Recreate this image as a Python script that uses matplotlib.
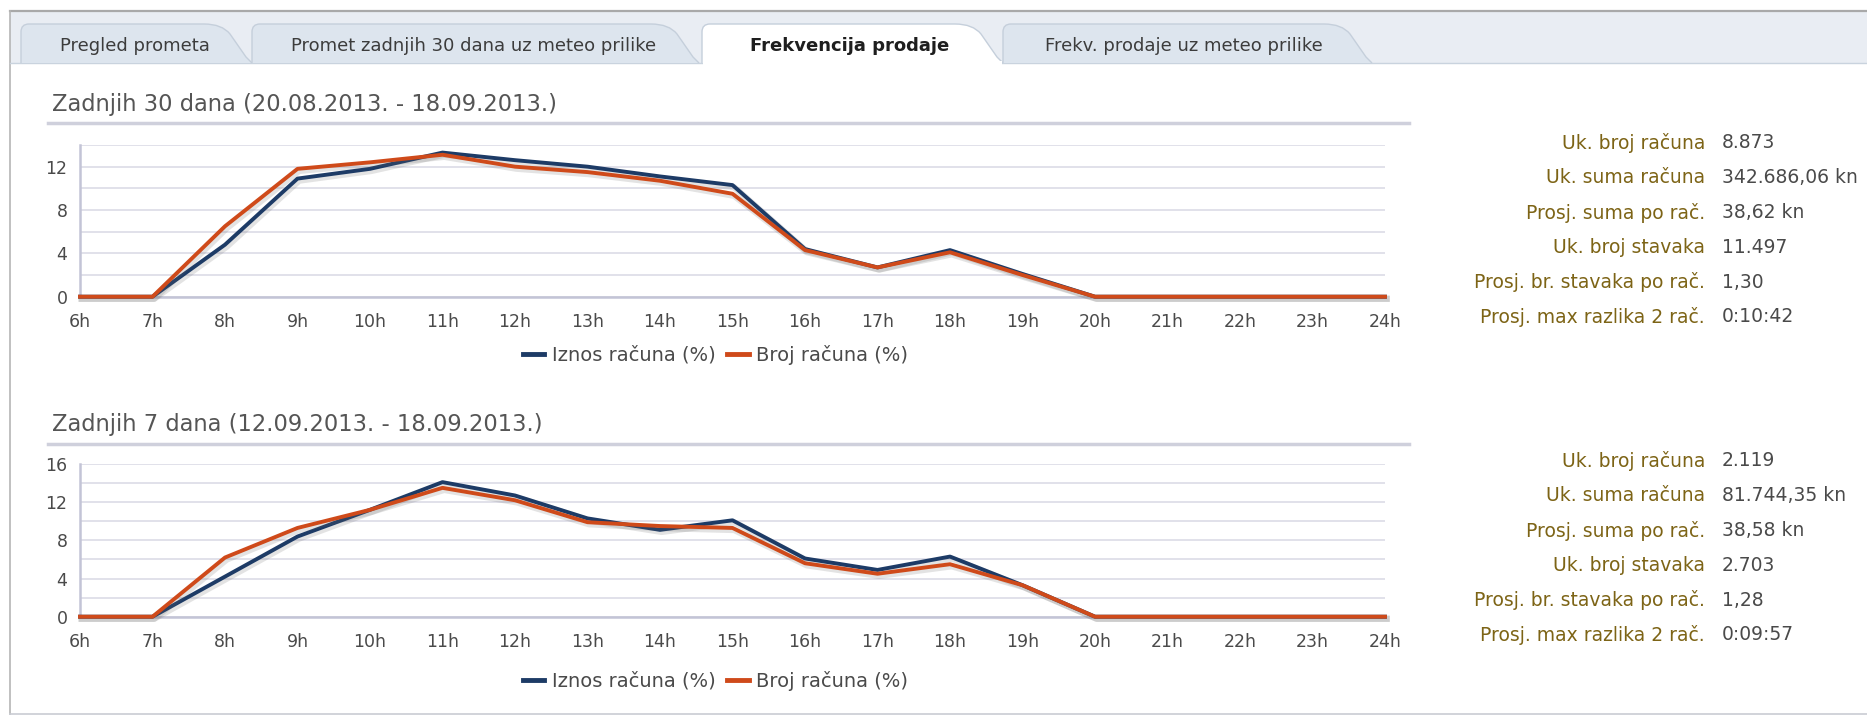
import matplotlib
matplotlib.use("Agg")
import matplotlib.pyplot as plt
from matplotlib.patches import Rectangle, PathPatch
from matplotlib.path import Path
import matplotlib.patheffects as pe

# ---------------- data ----------------
hours = ['6h', '7h', '8h', '9h', '10h', '11h', '12h', '13h', '14h', '15h',
         '16h', '17h', '18h', '19h', '20h', '21h', '22h', '23h', '24h']

iznos_30 = [0, 0, 4.8, 10.9, 11.8, 13.3, 12.6, 12.0, 11.1, 10.3,
            4.4, 2.7, 4.3, 2.1, 0, 0, 0, 0, 0]
broj_30 = [0, 0, 6.5, 11.8, 12.4, 13.1, 12.0, 11.5, 10.7, 9.5,
           4.3, 2.7, 4.1, 2.0, 0, 0, 0, 0, 0]

iznos_7 = [0, 0, 4.2, 8.4, 11.2, 14.1, 12.7, 10.3, 9.1, 10.1,
           6.1, 4.9, 6.3, 3.3, 0, 0, 0, 0, 0]
broj_7 = [0, 0, 6.2, 9.3, 11.2, 13.5, 12.2, 9.9, 9.5, 9.3,
          5.6, 4.5, 5.5, 3.3, 0, 0, 0, 0, 0]

series_names = ['Iznos računa (%)', 'Broj računa (%)']

tabs = ['Pregled prometa', 'Promet zadnjih 30 dana uz meteo prilike',
        'Frekvencija prodaje', 'Frekv. prodaje uz meteo prilike']
active_tab = 2

title_30 = 'Zadnjih 30 dana (20.08.2013. - 18.09.2013.)'
title_7 = 'Zadnjih 7 dana (12.09.2013. - 18.09.2013.)'

stat_labels = ['Uk. broj računa', 'Uk. suma računa', 'Prosj. suma po rač.',
               'Uk. broj stavaka', 'Prosj. br. stavaka po rač.',
               'Prosj. max razlika 2 rač.']
stat_values_30 = ['8.873', '342.686,06 kn', '38,62 kn', '11.497', '1,30', '0:10:42']
stat_values_7 = ['2.119', '81.744,35 kn', '38,58 kn', '2.703', '1,28', '0:09:57']

# ---------------- style ----------------
W, H = 1867, 719
BLUE = '#1d3b66'
ORANGE = '#cf4a1a'
GRID = '#e1e1ea'
AXIS = '#c3c4d6'
TXT = '#4a4a4a'
GOLD = '#7d6416'
FONT = ['DejaVu Sans']
plt.rcParams['font.family'] = FONT

fig = plt.figure(figsize=(W / 100, H / 100), dpi=100)
fig.patch.set_facecolor('white')

# decoration layer in pixel coords
deco = fig.add_axes([0, 0, 1, 1], zorder=0)
deco.set_xlim(0, W)
deco.set_ylim(H, 0)
deco.axis('off')

# outer frame & tab strip
deco.add_patch(Rectangle((10, 11), W, 52, facecolor='#e9edf3', edgecolor='none'))
deco.plot([10, W], [11, 11], color='#a9a9a9', lw=1.6)
deco.plot([10, 10], [11, 714], color='#b5b5b5', lw=1.2)
deco.plot([10, W], [714, 714], color='#c9ccd3', lw=1.2)
deco.plot([10, W], [63, 63], color='#c9d3de', lw=1.0)

tab_x = [(21, 252), (252, 699), (702, 1003), (1003, 1372)]
tab_label_x = [135, 474, 850, 1184]
top, bot = 24, 63
for i, ((x0, x1), lab, lx) in enumerate(zip(tab_x, tabs, tab_label_x)):
    verts = [(x0, bot), (x0, top + 8), (x0, top), (x0 + 8, top),
             (x1 - 48, top), (x1 - 30, top), (x1 - 22, top + 10),
             (x1 - 6, bot - 6), (x1, bot), (x1, bot)]
    codes = [Path.MOVETO, Path.LINETO, Path.CURVE3, Path.CURVE3,
             Path.LINETO, Path.CURVE3, Path.CURVE3,
             Path.LINETO, Path.CURVE3, Path.CURVE3]
    act = (i == active_tab)
    fc = 'white' if act else '#dde5ee'
    deco.add_patch(PathPatch(Path(verts, codes), facecolor=fc,
                             edgecolor='#c5cfdb', lw=1.0, zorder=2))
    if act:
        deco.add_patch(Rectangle((x0 + 1, bot - 2), x1 - x0 - 2, 6,
                                 facecolor='white', edgecolor='none', zorder=3))
    deco.text(lx, 46, lab, ha='center', va='center', fontsize=13,
              color='#1e1e1e' if act else '#3c3c3c',
              fontweight='bold' if act else 'normal', zorder=4)

# section titles and separators
deco.text(52, 105, title_30, ha='left', va='center', fontsize=16.3, color='#555555')
deco.plot([48, 1409], [123, 123], color='#cfd0dc', lw=2.5)
deco.text(52, 425, title_7, ha='left', va='center', fontsize=16.3, color='#555555')
deco.plot([48, 1409], [444, 444], color='#cfd0dc', lw=2.5)

# stats
def draw_stats(y0, values):
    for k, (lab, val) in enumerate(zip(stat_labels, values)):
        y = y0 + k * 34.8
        deco.text(1705, y, lab, ha='right', va='center', fontsize=13.5, color=GOLD)
        deco.text(1722, y, val, ha='left', va='center', fontsize=13.5, color=TXT)

draw_stats(143, stat_values_30)
draw_stats(461, stat_values_7)

# ---------------- charts ----------------
def make_chart(rect, iz, br, ymax, major, leg_y):
    ax = fig.add_axes(rect, zorder=2)
    ax.patch.set_alpha(0)
    x = list(range(len(hours)))
    shadow = [pe.SimpleLineShadow(offset=(1.2, -1.5), shadow_color='#666666',
                                  alpha=0.18, linewidth=4.5), pe.Normal()]
    ax.plot(x, iz, color=BLUE, lw=2.8, label=series_names[0], clip_on=False,
            solid_joinstyle='round', path_effects=shadow, zorder=3)
    ax.plot(x, br, color=ORANGE, lw=2.8, label=series_names[1], clip_on=False,
            solid_joinstyle='round', path_effects=shadow, zorder=4)
    ax.set_xlim(0, len(hours) - 1)
    ax.set_ylim(0, ymax)
    ax.set_xticks(x, hours)
    ax.set_yticks(major)
    ax.set_yticks(list(range(0, ymax + 1, 2)), minor=True)
    ax.grid(True, which='both', axis='y', color=GRID, lw=1.4, zorder=0)
    ax.grid(False, axis='x')
    for s in ['top', 'right']:
        ax.spines[s].set_visible(False)
    ax.spines['left'].set_color(AXIS)
    ax.spines['bottom'].set_color(AXIS)
    ax.spines['left'].set_linewidth(1.8)
    ax.spines['bottom'].set_linewidth(1.8)
    ax.tick_params(axis='x', length=0, pad=12, labelsize=12.5, labelcolor=TXT)
    ax.tick_params(axis='y', which='both', length=0, pad=9, labelsize=12.5, labelcolor=TXT)
    ax.set_axisbelow(True)
    leg = ax.legend(loc='center', bbox_to_anchor=(0.487, leg_y), ncol=2,
                    frameon=False, fontsize=14, handlelength=1.1,
                    handletextpad=0.4, columnspacing=0.6)
    for t in leg.get_texts():
        t.set_color(TXT)
    for h in leg.get_lines():
        h.set_linewidth(3.5)
        h.set_path_effects([])
    return ax

make_chart([80 / W, 1 - 296.7 / H, 1305 / W, 151.7 / H],
           iznos_30, broj_30, 14, [0, 4, 8, 12], -0.384)
make_chart([80 / W, 1 - 616.7 / H, 1305 / W, 152.7 / H],
           iznos_7, broj_7, 16, [0, 4, 8, 12, 16], -0.421)

fig.savefig('out.png', dpi=100, facecolor='white')
